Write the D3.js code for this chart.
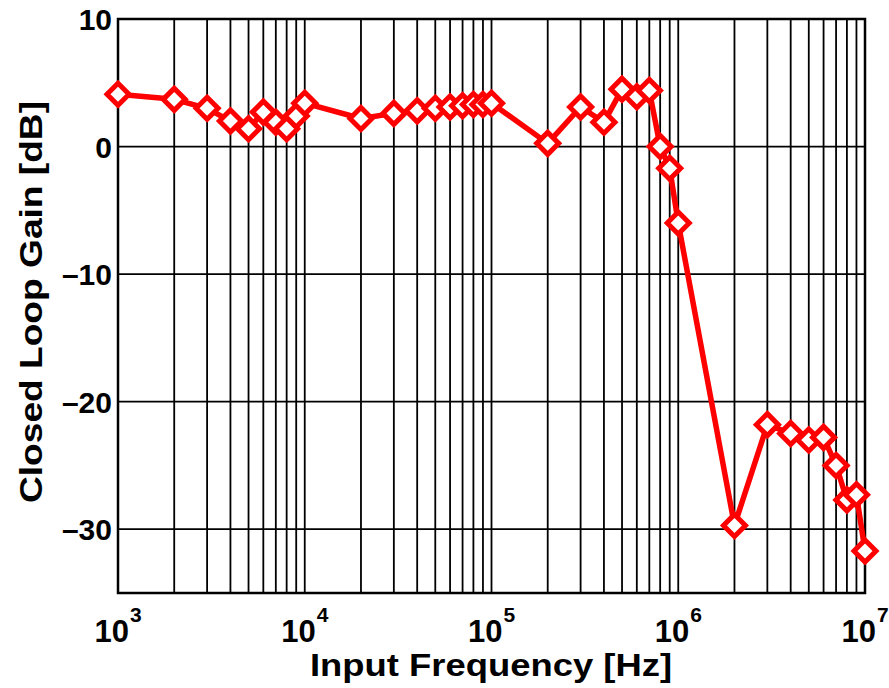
<!DOCTYPE html>
<html>
<head>
<meta charset="utf-8">
<script src="https://cdn.jsdelivr.net/npm/d3@7"></script>
<style>
  body { margin: 0; background: #fff; }
  svg text { font-family: "Liberation Sans", Arial, sans-serif; font-weight: bold; fill: #000; }
</style>
</head>
<body>
<div id="chart"></div>
<script>
// measured frequencies [Hz]
var freqs = [1e3, 2e3, 3e3, 4e3, 5e3, 6e3, 7e3, 8e3, 9e3,
             1e4, 2e4, 3e4, 4e4, 5e4, 6e4, 7e4, 8e4, 9e4,
             1e5, 2e5, 3e5, 4e5, 5e5, 6e5, 7e5, 8e5, 9e5,
             1e6, 2e6, 3e6, 4e6, 5e6, 6e6, 7e6, 8e6, 9e6, 1e7];
// closed loop gain [dB]
var gains = [4.1, 3.7, 3.0, 2.0, 1.4, 2.7, 1.9, 1.4, 2.4,
             3.4, 2.2, 2.6, 2.8, 3.0, 3.1, 3.2, 3.3, 3.3,
             3.4, 0.25, 3.1, 1.9, 4.5, 3.9, 4.4, 0.0, -1.7,
             -6.0, -29.7, -21.8, -22.5, -23.0, -22.8, -25.0, -27.7, -27.3, -31.7];
var yTicks = [-30, -20, -10, 0, 10];
var xDecades = [1e3, 1e4, 1e5, 1e6, 1e7];

var width = 889, height = 688;
var pLeft = 118, pRight = 865, pTop = 19, pBottom = 593;

var svg = d3.select('#chart').append('svg')
    .attr('width', width)
    .attr('height', height);

var x = d3.scaleLog().domain([1e3, 1e7]).range([pLeft, pRight]);
var y = d3.scaleLinear().domain([-35, 10]).range([pBottom, pTop]);

// minor + major vertical grid lines
var xGrid = x.ticks().filter(function(d) { return d > 1e3 && d < 1e7; });
svg.append('g').selectAll('line')
    .data(xGrid)
    .enter().append('line')
    .attr('x1', function(d) { return x(d); })
    .attr('x2', function(d) { return x(d); })
    .attr('y1', pTop)
    .attr('y2', pBottom)
    .attr('stroke', '#000')
    .attr('stroke-width', 1.8);

svg.append('g').selectAll('line')
    .data(yTicks.filter(function(d) { return d < 10; }))
    .enter().append('line')
    .attr('x1', pLeft)
    .attr('x2', pRight)
    .attr('y1', function(d) { return y(d); })
    .attr('y2', function(d) { return y(d); })
    .attr('stroke', '#000')
    .attr('stroke-width', 1.8);

// frame
svg.append('rect')
    .attr('x', pLeft).attr('y', pTop)
    .attr('width', pRight - pLeft).attr('height', pBottom - pTop)
    .attr('fill', 'none')
    .attr('stroke', '#000')
    .attr('stroke-width', 2.5);

// y tick labels
svg.append('g').selectAll('text')
    .data(yTicks)
    .enter().append('text')
    .attr('x', pLeft - 6)
    .attr('y', function(d) { return y(d) + 11; })
    .attr('text-anchor', 'end')
    .style('font-size', '30px')
    .text(function(d) { return d < 0 ? '\u2013' + Math.abs(d) : d; });

// x tick labels 10^n
var xl = svg.append('g').selectAll('text')
    .data(xDecades)
    .enter().append('text')
    .attr('x', function(d) { return x(d); })
    .attr('y', 642)
    .attr('text-anchor', 'middle')
    .style('font-size', '31px');
xl.append('tspan').text('10');
xl.append('tspan')
    .attr('dy', -20)
    .attr('dx', 1)
    .style('font-size', '21px')
    .text(function(d) { return Math.round(Math.log10(d)); });

// axis titles
svg.append('text')
    .attr('x', 491)
    .attr('y', 676)
    .attr('text-anchor', 'middle')
    .attr('textLength', 362)
    .attr('lengthAdjust', 'spacingAndGlyphs')
    .style('font-size', '32px')
    .text('Input Frequency [Hz]');

svg.append('text')
    .attr('transform', 'translate(42,302) rotate(-90)')
    .attr('text-anchor', 'middle')
    .attr('textLength', 402)
    .attr('lengthAdjust', 'spacingAndGlyphs')
    .style('font-size', '32px')
    .text('Closed Loop Gain [dB]');

// data line + diamond markers
var pts = freqs.map(function(f, i) { return [f, gains[i]]; });
var line = d3.line()
    .x(function(d) { return x(d[0]); })
    .y(function(d) { return y(d[1]); });

svg.append('path')
    .datum(pts)
    .attr('d', line)
    .attr('fill', 'none')
    .attr('stroke', '#ff0000')
    .attr('stroke-width', 5.5)
    .attr('stroke-linejoin', 'round');

var r = 11;
svg.append('g').selectAll('path')
    .data(pts)
    .enter().append('path')
    .attr('transform', function(d) { return 'translate(' + x(d[0]) + ',' + y(d[1]) + ')'; })
    .attr('d', 'M0,' + (-r) + 'L' + r + ',0L0,' + r + 'L' + (-r) + ',0Z')
    .attr('fill', '#fff')
    .attr('stroke', '#ff0000')
    .attr('stroke-width', 5);
</script>
</body>
</html>
